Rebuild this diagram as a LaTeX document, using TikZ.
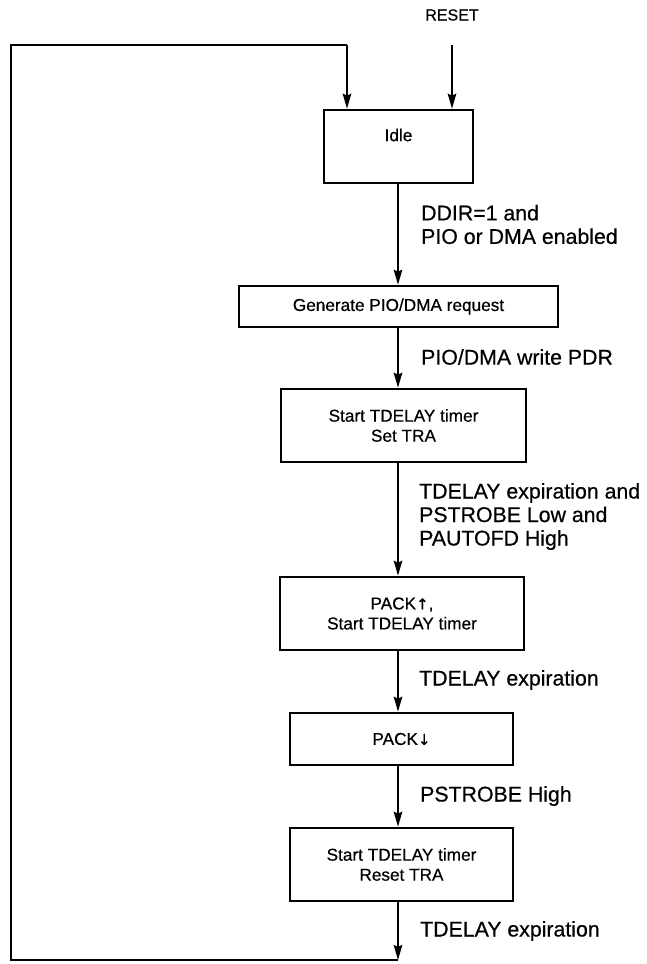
\documentclass[tikz,border=0pt]{standalone}
\usepackage{fontspec}
\setmainfont[FakeBold=0.5]{Liberation Sans}
\newfontfamily\arrfont[FakeBold=0.3]{DejaVu Sans}
\usetikzlibrary{arrows.meta}
\tikzset{
  stbox/.style={draw, line width=2.6pt, inner sep=0pt},
  boxtxt/.style={font=\fontsize{17.2}{20}\selectfont, align=center, inner sep=0pt},
  lbl/.style={font=\fontsize{21.3}{23.5}\selectfont, align=left, anchor=west, inner sep=0pt},
  conn/.style={line width=2.2pt, -{Stealth[length=15pt,width=8.5pt,inset=2pt]}},
  wire/.style={line width=2.2pt}
}
\begin{document}
\begin{tikzpicture}[x=1pt,y=-1pt]
\useasboundingbox (0,0) rectangle (646,964);
\coordinate (spine) at (398,0);
% boxes
\node[stbox, minimum width=149pt, minimum height=73pt] (idle) at (398.5,146.5) {};
\node[boxtxt] (idletxt) at (398.5,135) {Idle};
\node[stbox, boxtxt, minimum width=319pt, minimum height=41pt] (gen) at (398.5,306.5) {Generate PIO/DMA request};
\node[stbox, boxtxt, minimum width=245pt, minimum height=73pt] (tra) at (403.5,425.5) {Start TDELAY timer\\Set TRA};
\node[stbox, boxtxt, minimum width=244pt, minimum height=73pt] (packup) at (402,613.5) {PACK{\arrfont\fontsize{15}{18}\selectfont ↑},\\Start TDELAY timer};
\node[stbox, boxtxt, minimum width=223pt, minimum height=52pt] (packdn) at (401.5,739) {PACK{\arrfont\fontsize{15}{18}\selectfont ↓}};
\node[stbox, boxtxt, minimum width=223pt, minimum height=73pt] (rst) at (401.5,864.5) {Start TDELAY timer\\Reset TRA};
% reset input
\node[font=\fontsize{16}{18}\selectfont, inner sep=0pt] (reset) at (452,15) {RESET};
\coordinate (rtop) at (452,45);
\draw[conn] (rtop) -- (idle.north -| rtop);
% loop
\coordinate (bot) at (398,960);
\coordinate (bl) at (11,960);
\coordinate (tl) at (11,45);
\coordinate (tr) at (347,45);
\draw[conn] (rst.south -| spine) -- (bot);
\draw[wire, line join=miter] (bot) -- (bl) -- (tl) -- (tr);
\draw[conn] (tr) -- (idle.north -| tr);
% chain
\draw[conn] (idle.south -| spine) -- (gen.north -| spine);
\draw[conn] (gen.south -| spine) -- (tra.north -| spine);
\draw[conn] (tra.south -| spine) -- (packup.north -| spine);
\draw[conn] (packup.south -| spine) -- (packdn.north -| spine);
\draw[conn] (packdn.south -| spine) -- (rst.north -| spine);
% labels
\node[lbl] (l1) at (421,224.5) {DDIR=1 and\\PIO or DMA enabled};
\node[lbl] (l2) at (421,357) {PIO/DMA write PDR};
\node[lbl] (l3) at (419,516.5) {TDELAY expiration and\\PSTROBE Low and\\PAUTOFD High};
\node[lbl] (l4) at (419,680) {TDELAY expiration};
\node[lbl] (l5) at (420,796) {PSTROBE High};
\node[lbl] (l6) at (420,931) {TDELAY expiration};
\end{tikzpicture}
\end{document}
